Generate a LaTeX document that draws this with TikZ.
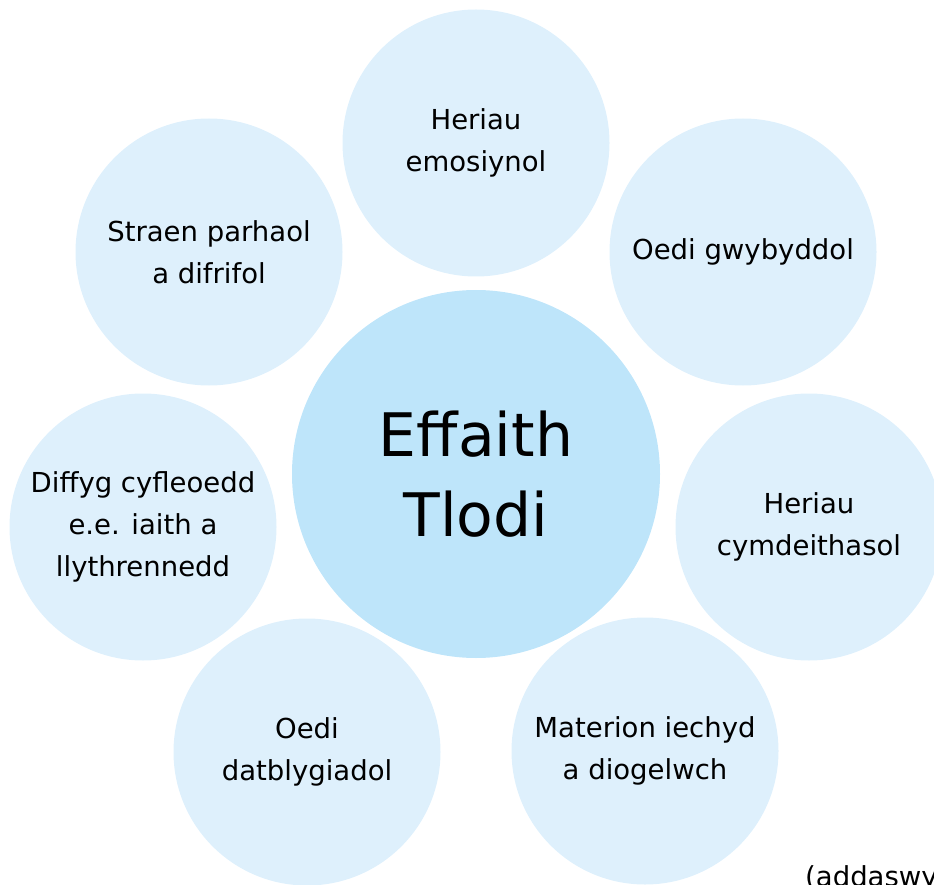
\documentclass[tikz,border=0pt]{standalone}
\usepackage{fontspec}
\setmainfont{DejaVu Sans}
\usepackage{tikz}
\usetikzlibrary{positioning}
\definecolor{glasgolau}{HTML}{DEF0FC}
\definecolor{glascanol}{HTML}{BEE5FA}

\begin{document}
\begin{tikzpicture}[
		x=1pt, y=-1pt,
		cylch/.style={circle, minimum size=267pt, inner sep=0pt, fill=glasgolau, align=center, font=\fontsize{27.5}{42}\selectfont},
		canol/.style={circle, minimum size=368pt, inner sep=0pt, fill=glascanol, align=center, font=\fontsize{60}{80}\selectfont}
	]
	\useasboundingbox (0,0) rectangle (934,885);
	\clip (0,0) rectangle (934,885);

	% Cylchoedd allanol
	\node[cylch] (emosiynol) at (476,143) {Heriau\\emosiynol};
	\node[cylch] (gwybyddol) at (743,252) {Oedi gwybyddol};
	\node[cylch] (cymdeithasol) at (809,527) {Heriau\\cymdeithasol};
	\node[cylch] (iechyd) at (645,751) {Materion iechyd\\a diogelwch};
	\node[cylch] (datblygiadol) at (307,752) {Oedi\\datblygiadol};
	\node[cylch] (cyfleoedd) at (143,527) {Diffyg cyfleoedd\\e.e. iaith a\\llythrennedd};
	\node[cylch] (straen) at (209,252) {Straen parhaol\\a difrifol};

	% Cylch canol
	\node[canol] (effaith) at (476,474) {Effaith\\Tlodi};

	% Ffynhonnell
	\node[anchor=base west, inner sep=0pt, font=\fontsize{27.5}{32}\selectfont] (ffynhonnell) at (805,886) {(addaswyd};
\end{tikzpicture}
\end{document}
